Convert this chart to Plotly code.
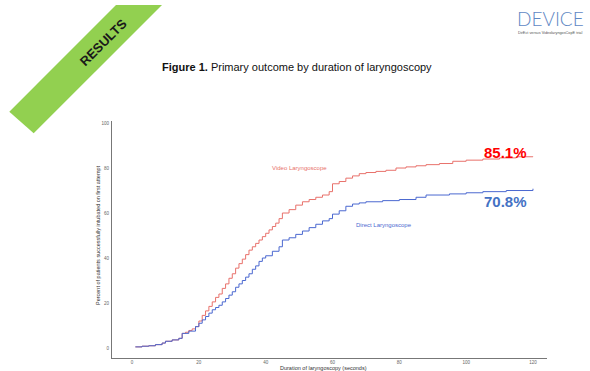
import plotly.graph_objects as go

# ---- data ----
video_t = [1, 3, 5, 7, 9, 10, 12, 14, 15, 16, 17, 18, 19, 20, 21, 22, 23, 24, 25, 26, 27, 28, 29, 30,
           31, 32, 33, 34, 35, 36, 37, 38, 39, 40, 41, 42, 43, 44, 45, 47, 49, 51, 53, 55, 57, 59,
           60, 62, 64, 66, 68, 70, 73, 76, 79, 82, 85, 88, 92, 96, 100, 105, 110, 115, 120]
video_p = [0.5, 0.8, 1.0, 1.5, 2.2, 3.0, 3.6, 4.3, 6.5, 7.0, 7.8, 8.5, 9.5, 12.0, 14.5, 16.5, 18.5,
           20.5, 22.5, 24.0, 26.5, 28.5, 31.0, 33.0, 35.5, 37.5, 39.5, 41.5, 43.5, 45.0, 46.5, 48.0,
           49.5, 51.0, 52.5, 54.0, 55.5, 57.5, 60.0, 61.5, 63.5, 65.0, 66.0, 67.0, 68.0, 69.5,
           73.0, 74.0, 75.5, 76.5, 77.5, 78.0, 78.5, 79.0, 80.0, 80.5, 81.0, 81.5, 82.0, 83.0,
           83.5, 84.0, 84.5, 85.0, 85.1]

direct_t = [1, 3, 5, 7, 9, 10, 12, 14, 15, 17, 19, 20, 21, 22, 23, 24, 25, 26, 27, 28, 29, 30,
            31, 32, 33, 34, 35, 36, 37, 38, 39, 40, 42, 44, 45, 47, 49, 51, 53, 55, 57, 59,
            60, 62, 64, 66, 68, 70, 75, 80, 85, 88, 95, 100, 105, 112, 120]
direct_p = [0.5, 0.8, 1.0, 1.5, 2.2, 3.0, 3.6, 4.3, 6.5, 7.5, 9.5, 11.0, 12.5, 14.0, 15.5, 17.0,
            18.0, 19.0, 20.5, 22.0, 23.5, 25.0, 27.0, 28.5, 30.0, 31.5, 33.0, 35.0, 36.5, 38.5,
            40.0, 41.0, 43.0, 45.0, 48.0, 49.0, 50.5, 52.0, 53.5, 55.0, 56.5, 57.5, 59.5, 61.0,
            63.0, 64.0, 64.5, 65.0, 65.5, 66.0, 67.0, 68.0, 68.5, 69.0, 69.5, 70.0, 70.8]

x_ticks = [0, 20, 40, 60, 80, 100, 120]
y_ticks = [0, 20, 40, 60, 80, 100]
final_labels = ["85.1%", "70.8%"]
series_names = ["Video Laryngoscope", "Direct Laryngoscope"]

RED = "#E8716B"
BLUE = "#4B68D0"

W, H = 590, 371
L, R, T, B = 112, 547, 121, 358  # plot area in pixels


def px(xp):
    return (xp - L) / (R - L)


def py(yp):
    return (B - yp) / (B - T)


def note(xp, yp, text, size, color, family="Liberation Sans", angle=0, xanchor="center", **kw):
    return dict(x=px(xp), y=py(yp), xref="paper", yref="paper", text=text, showarrow=False,
                xanchor=xanchor, yanchor="middle", textangle=angle,
                font=dict(family=family, size=size, color=color, **kw))


fig = go.Figure()
fig.add_trace(go.Scatter(x=video_t, y=video_p, mode="lines", line_shape="hv",
                         line=dict(color=RED, width=1), name=series_names[0]))
fig.add_trace(go.Scatter(x=direct_t, y=direct_p, mode="lines", line_shape="hv",
                         line=dict(color=BLUE, width=1), name=series_names[1]))

ann = []
# in-plot series labels
ann.append(dict(x=50, y=80, xref="x", yref="y", text=series_names[0], showarrow=False,
                xanchor="center", yanchor="middle",
                font=dict(family="Liberation Sans", size=6, color=RED)))
ann.append(dict(x=75.5, y=54.7, xref="x", yref="y", text=series_names[1], showarrow=False,
                xanchor="center", yanchor="middle",
                font=dict(family="Liberation Sans", size=6, color=BLUE)))
# final percentages
ann.append(note(529, 152, "<b>%s</b>" % final_labels[0], 15, "#FF0000", xanchor="right"))
ann.append(note(529, 201, "<b>%s</b>" % final_labels[1], 15, "#4472C4", xanchor="right"))
# axis titles
ann.append(note(323, 367.5, "Duration of laryngoscopy (seconds)", 5.5, "#333333"))
ann.append(note(98, 235, "Percent of patients successfully intubated on first attempt", 5.5,
                "#333333", angle=-90))
# figure title
ann.append(note(297, 67, "<b>Figure 1.</b> Primary outcome by duration of laryngoscopy", 11, "#111111"))
# banner text
ann.append(note(103, 42, "<b>RESULTS</b>", 13, "#1a1a1a", angle=-45))
# logo
ann.append(note(550, 18.5, "DEVICE", 19, "#5F88C4", family="Lato", weight=300))
ann.append(note(550, 33.5, "DirEct versus VideolaryngosCopE trial", 3.8, "#555555"))

shapes = [dict(type="path", xref="paper", yref="paper",
               path="M %f,%f L %f,%f L %f,%f L %f,%f Z" % (
                   px(116), py(5), px(162), py(5), px(33.7), py(133.3), px(9.3), py(111.7)),
               fillcolor="#92D050", line=dict(width=0), layer="below")]

fig.update_layout(
    width=W, height=H,
    margin=dict(l=L, r=W - R, t=T, b=H - B, autoexpand=False),
    paper_bgcolor="white", plot_bgcolor="white",
    showlegend=False,
    annotations=ann, shapes=shapes,
    xaxis=dict(range=[-6, 124.2], tickvals=x_ticks, ticktext=[str(v) for v in x_ticks],
               showgrid=False, zeroline=False, showline=True, linecolor="#777777", linewidth=1,
               ticks="", ticklabelstandoff=0,
               tickfont=dict(family="Liberation Sans", size=4.5, color="#666666"), automargin=False),
    yaxis=dict(range=[-4.44, 100.9], tickvals=y_ticks, ticktext=[str(v) for v in y_ticks],
               showgrid=False, zeroline=False, showline=True, linecolor="#777777", linewidth=1,
               ticks="", ticklabelstandoff=1,
               tickfont=dict(family="Liberation Sans", size=4.5, color="#666666"), automargin=False),
)

fig.write_html("out.html", config={"displayModeBar": False},
               post_script="document.body.style.margin='0';document.body.style.overflow='hidden';")
